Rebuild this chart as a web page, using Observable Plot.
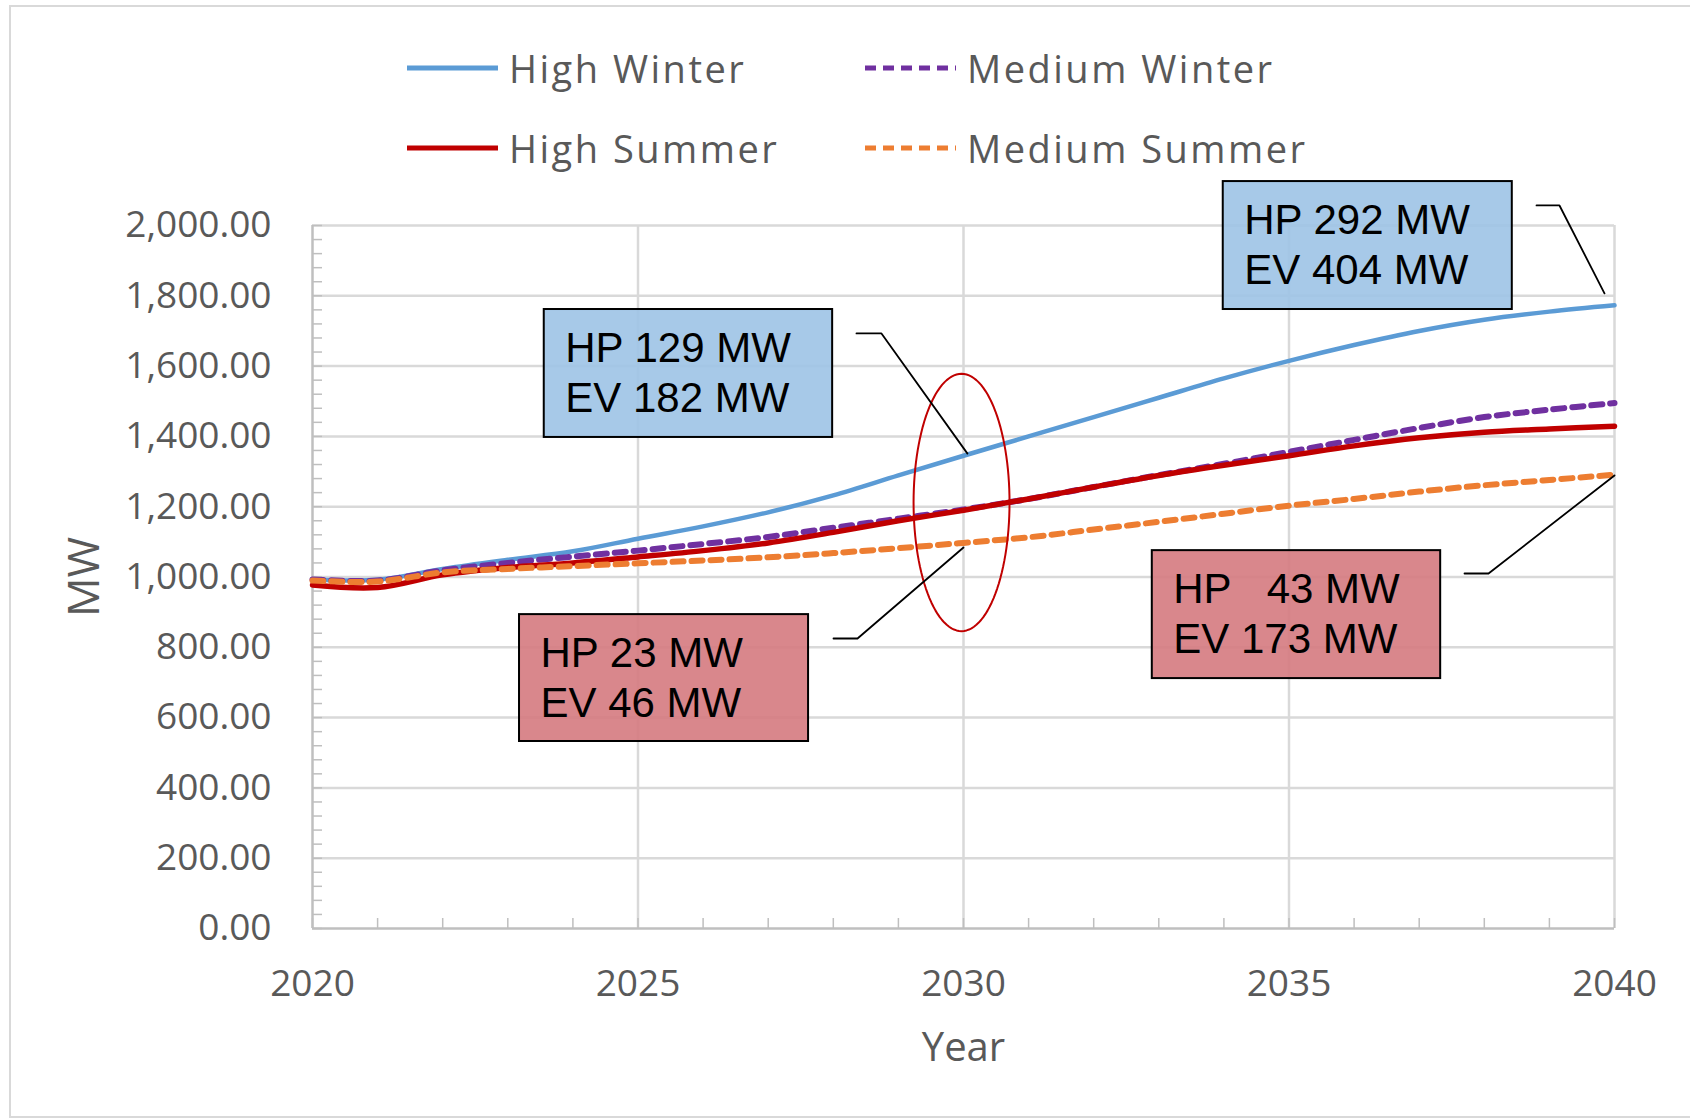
<!DOCTYPE html>
<html><head><meta charset="utf-8">
<script src="https://cdn.jsdelivr.net/npm/d3@7"></script>
<script src="https://cdn.jsdelivr.net/npm/@observablehq/plot@0.6"></script>
<style>
html,body{margin:0;padding:0;background:#fff;width:1690px;height:1118px;overflow:hidden;font-family:"Open Sans",sans-serif;}
#frame{position:absolute;left:9px;top:5px;width:1720px;height:1113px;border:2px solid #d9d9d9;box-sizing:border-box;}
#legend{position:absolute;left:0;top:0;width:1690px;height:170px;}
#chart{position:absolute;left:0;top:170px;}
.item{position:absolute;display:flex;align-items:center;height:50px;}
.item span{margin-left:11px;font-size:38px;letter-spacing:2.5px;color:#595959;font-family:"Open Sans",sans-serif;white-space:nowrap;}
</style></head><body>
<div id="frame"></div>
<div id="legend"></div>
<div id="chart"></div>
<script>
// ---- data ----
const years = [2020,2021,2022,2023,2024,2025,2026,2027,2028,2029,2030,2031,2032,2033,2034,2035,2036,2037,2038,2039,2040];
const highWinter   = [993, 992,1023,1049,1073,1109,1144,1184,1232,1289,1345,1400,1455,1510,1565,1615,1660,1700,1732,1755,1773];
const mediumWinter = [993, 990,1019,1040,1058,1075,1094,1114,1140,1166,1192,1222,1256,1290,1322,1356,1390,1424,1455,1476,1495];
const highSummer   = [977, 970,1006,1027,1040,1057,1075,1097,1127,1160,1190,1222,1256,1289,1318,1345,1373,1396,1412,1421,1429];
const mediumSummer = [990, 987,1013,1023,1031,1039,1047,1056,1068,1082,1097,1113,1135,1157,1180,1203,1222,1243,1261,1276,1291];
const seriesNames = ["High Winter","Medium Winter","High Summer","Medium Summer"];
const seriesValues = [highWinter, mediumWinter, highSummer, mediumSummer];
const yMajorTicks = [0,200,400,600,800,1000,1200,1400,1600,1800,2000];
const xMajorTicks = [2020,2025,2030,2035,2040];

// annotation content
const noteTexts = [["HP 129 MW","EV 182 MW"],["HP 292 MW","EV 404 MW"],["HP 23 MW","EV 46 MW"],["HP\u00a0\u00a0\u00a043 MW","EV 173 MW"]];

// ---- styles / layout ----
const seriesStyle = {
  "High Winter":   {color:"#5b9bd5", width:4.5, dash:null},
  "Medium Winter": {color:"#7030a0", width:6,   dash:"11,8"},
  "High Summer":   {color:"#c00000", width:5.5, dash:null},
  "Medium Summer": {color:"#ed7d31", width:6,   dash:"11,8"}
};
const W = 1690, H = 948;
const mL = 312, mR = 76, mT = 55, mB = 190;
const plotW = W - mL - mR, plotH = H - mT - mB;
const yrPerPx = 20 / plotW, mwPerPx = 2000 / plotH;

// annotation boxes & leaders (data coordinates)
const notes = [
  {x1:2023.56, x2:2027.99, y1:1397, y2:1761, fill:"#9dc3e6"},
  {x1:2033.99, x2:2038.43, y1:1761, y2:2125, fill:"#9dc3e6"},
  {x1:2023.18, x2:2027.62, y1:532,  y2:893,  fill:"#d57a80"},
  {x1:2032.90, x2:2037.33, y1:711,  y2:1075, fill:"#d57a80"}
];
const leaders = [
  [[2028.356,1693],[2028.740,1693],[2030.061,1351]],
  [[2038.802,2057],[2039.155,2057],[2039.846,1807]],
  [[2028.003,825],[2028.372,825],[2030.0,1084]],
  [[2037.696,1010],[2038.065,1010],[2040.0,1289]]
];
const ellipse = {cx:2029.97, cy:1212, rx:0.737, ry:366};

// ---- build tables ----
const rows = [];
seriesNames.forEach((name, s) => seriesValues[s].forEach((v, i) => rows.push({year: years[i], mw: v, series: name})));
const leaderRows = [];
leaders.forEach((pts, k) => pts.forEach(p => leaderRows.push({x: p[0], y: p[1], z: k})));
const ellipsePts = d3.range(0, 361, 3).map(a => ({x: ellipse.cx + ellipse.rx*Math.cos(a*Math.PI/180), y: ellipse.cy + ellipse.ry*Math.sin(a*Math.PI/180)}));
const noteLines = [];
notes.forEach((n, k) => noteTexts[k].forEach((t, i) => noteLines.push({x: n.x1 + 21*yrPerPx, y: n.y2 - (38.6 + 50*i)*mwPerPx, text: t})));
const yMinor = d3.range(0, 2001, 40);
const xMinor = years;

const lineMarks = seriesNames.map(name => {
  const st = seriesStyle[name];
  return Plot.line(rows.filter(r => r.series === name), {
    x: "year", y: "mw", stroke: st.color, strokeWidth: st.width,
    strokeDasharray: st.dash || undefined, curve: "catmull-rom", strokeLinejoin: "round"
  });
});

const chart = Plot.plot({
  width: W, height: H,
  marginLeft: mL, marginRight: mR, marginTop: mT, marginBottom: mB,
  style: {fontFamily: "'Open Sans', sans-serif", fontSize: "36px", color: "#595959", background: "transparent", overflow: "visible"},
  x: {type: "linear", domain: [2020, 2040]},
  y: {domain: [0, 2000]},
  color: {type: "identity"},
  marks: [
    Plot.gridY(yMajorTicks.slice(1), {stroke: "#d9d9d9", strokeOpacity: 1, strokeWidth: 2.5}),
    Plot.gridX(xMajorTicks.slice(1), {stroke: "#d9d9d9", strokeOpacity: 1, strokeWidth: 2.5}),
    Plot.tickY(yMinor, {y: d => d, stroke: "#bfbfbf", strokeWidth: 1.5, insetRight: plotW - 10}),
    Plot.tickX(xMinor, {x: d => d, stroke: "#bfbfbf", strokeWidth: 1.5, insetTop: plotH - 10}),
    Plot.ruleY([0], {stroke: "#bfbfbf", strokeWidth: 2.5}),
    Plot.ruleX([2020], {stroke: "#bfbfbf", strokeWidth: 2.5}),
    Plot.axisY(yMajorTicks, {tickSize: 0, tickPadding: 41, tickFormat: d3.format(",.2f"), fontSize: 37, label: null}),
    Plot.axisX(xMajorTicks, {tickSize: 0, tickPadding: 41, tickFormat: d => String(d), fontSize: 37, label: null}),
    ...lineMarks,
    Plot.line(ellipsePts, {x: "x", y: "y", stroke: "#c00000", strokeWidth: 2}),
    Plot.line(leaderRows, {x: "x", y: "y", z: "z", stroke: "#000", strokeWidth: 1.8}),
    Plot.rect(notes, {x1: "x1", x2: "x2", y1: "y1", y2: "y2", fill: "fill", fillOpacity: 0.9, stroke: "#000", strokeWidth: 2}),
    Plot.text(noteLines, {x: "x", y: "y", text: "text", textAnchor: "start", fontFamily: "'Liberation Sans', Arial, sans-serif", fontSize: 42, fill: "#000"}),
    Plot.text(["MW"], {text: d => d, frameAnchor: "left", textAnchor: "middle", lineAnchor: "middle", dx: -228, rotate: -90, fontSize: 44, fill: "#595959"}),
    Plot.text(["Year"], {text: d => d, frameAnchor: "bottom", textAnchor: "middle", lineAnchor: "middle", dy: 120, fontSize: 40, fill: "#595959"})
  ]
});
document.getElementById("chart").appendChild(chart);

// ---- legend ----
const legend = d3.select("#legend");
const colX = [407, 865], rowY = [68, 148];
seriesNames.forEach((name, i) => {
  const st = seriesStyle[name];
  const item = legend.append("div").attr("class", "item")
    .style("left", colX[i % 2] + "px").style("top", (rowY[Math.floor(i / 2)] - 25) + "px");
  const svg = item.append("svg").attr("width", 91).attr("height", 10);
  svg.append("line").attr("x1", 0).attr("x2", 91).attr("y1", 5).attr("y2", 5)
    .attr("stroke", st.color).attr("stroke-width", 5)
    .attr("stroke-dasharray", st.dash ? "11,7" : null);
  item.append("span").text(name);
});
</script>
</body></html>
